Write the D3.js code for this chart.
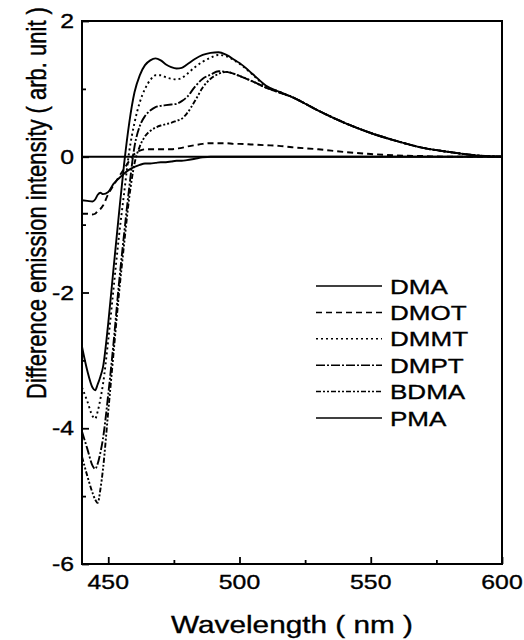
<!DOCTYPE html>
<html lang="en">
<head>
  <meta charset="UTF-8">
  <title>Difference emission intensity</title>
  <script src="https://d3js.org/d3.v7.min.js"></script>
  <style>
    body { margin: 0; background: #fff; }
    svg { display: block; font-family: "Liberation Sans", Arial, sans-serif; }
    svg text { fill: #000; stroke: #000; stroke-width: 0.35px; }
    .tick-label { font-size: 20px; }
    .legend text { font-size: 21px; }
  </style>
</head>
<body>
<svg width="524" height="640"></svg>
<script>
// wavelengths (nm)
const wavelength = [440,442,444,445,446,447,448,450,452,454,456,458,460,462,464,466,468,470,472,474,476,478,480,483,486,489,492,495,498,500,505,510,515,520,530,540,550,560,570,580,590,600];

const DMA  = [-0.64,-0.65,-0.66,-0.63,-0.56,-0.53,-0.55,-0.52,-0.40,-0.32,-0.25,-0.19,-0.15,-0.12,-0.10,-0.10,-0.09,-0.08,-0.08,-0.07,-0.06,-0.06,-0.05,-0.03,-0.01,0,0,0,0,0,0,0,0,0,0,0,0,0,0,0,0,0];
const DMOT = [-0.84,-0.84,-0.85,-0.84,-0.80,-0.77,-0.72,-0.55,-0.42,-0.30,-0.18,-0.06,0.04,0.09,0.11,0.11,0.11,0.11,0.11,0.11,0.12,0.13,0.15,0.17,0.19,0.20,0.20,0.20,0.19,0.19,0.18,0.17,0.16,0.14,0.11,0.07,0.04,0.02,0.01,0,0,0];
const DMMT = [-3.40,-3.60,-3.82,-3.86,-3.75,-3.57,-3.35,-2.70,-1.95,-1.20,-0.55,0.08,0.50,0.80,1.00,1.13,1.20,1.20,1.17,1.15,1.14,1.16,1.22,1.32,1.40,1.46,1.50,1.48,1.42,1.37,1.21,1.04,0.96,0.88,0.68,0.50,0.35,0.23,0.13,0.07,0.02,0];
const DMPT = [-4.05,-4.30,-4.55,-4.60,-4.52,-4.36,-4.15,-3.50,-2.75,-1.90,-1.15,-0.45,0.15,0.45,0.60,0.68,0.73,0.75,0.76,0.77,0.78,0.82,0.88,1.03,1.15,1.21,1.26,1.25,1.22,1.19,1.11,1.02,0.95,0.88,0.68,0.50,0.35,0.23,0.13,0.07,0.02,0];
const BDMA = [-4.42,-4.70,-4.95,-5.05,-5.10,-4.90,-4.60,-3.75,-2.90,-2.05,-1.30,-0.60,-0.10,0.15,0.30,0.38,0.43,0.46,0.48,0.50,0.53,0.56,0.64,0.82,1.02,1.15,1.22,1.25,1.22,1.19,1.11,1.02,0.95,0.88,0.68,0.50,0.35,0.23,0.13,0.07,0.02,0];
const PMA  = [-2.80,-3.15,-3.40,-3.44,-3.35,-3.24,-3.10,-2.45,-1.65,-0.87,-0.12,0.50,0.95,1.20,1.35,1.42,1.45,1.42,1.36,1.32,1.30,1.31,1.36,1.44,1.50,1.53,1.54,1.50,1.43,1.38,1.22,1.05,0.96,0.88,0.68,0.50,0.35,0.23,0.13,0.07,0.02,0];

const seriesNames = ["DMA","DMOT","DMMT","DMPT","BDMA","PMA"];
const seriesValues = [DMA, DMOT, DMMT, DMPT, BDMA, PMA];
const dashes = ["none", "6,4", "2,3", "9,2,2,2", "5,2,2,2,2,2", "none"];

const xTicks = [450, 500, 550, 600];
const xMinor = [475, 525, 575];
const yTicks = [2, 0, -2, -4, -6];
const yMinor = [1, -1, -3, -5];

const svg = d3.select("svg");
const plotL = 82, plotR = 502, plotT = 21, plotB = 564;
const stretch = 1.24; // the lettering of the original is a bit wide

const x = d3.scaleLinear().domain([440, 600]).range([plotL, plotR]);
const y = d3.scaleLinear().domain([-6, 2]).range([plotB, plotT]);

function wideText(sel, tx, ty) {
  return sel.append("text")
    .attr("transform", `translate(${tx},${ty}) scale(${stretch},1)`);
}

// curves
const line = d3.line()
  .x((d, i) => x(wavelength[i]))
  .y(d => y(d))
  .curve(d3.curveMonotoneX);

seriesValues.forEach((vals, k) => {
  svg.append("path")
    .attr("d", line(vals))
    .attr("fill", "none")
    .attr("stroke", "#000")
    .attr("stroke-width", 1.9)
    .attr("stroke-dasharray", dashes[k]);
});

// zero line
svg.append("line")
  .attr("x1", plotL).attr("x2", plotR)
  .attr("y1", y(0)).attr("y2", y(0))
  .attr("stroke", "#000").attr("stroke-width", 2);

// frame
svg.append("rect")
  .attr("x", plotL).attr("y", plotT)
  .attr("width", plotR - plotL).attr("height", plotB - plotT)
  .attr("fill", "none").attr("stroke", "#000").attr("stroke-width", 2);

// ticks, pointing inward
svg.append("g")
  .attr("transform", `translate(0,${plotB})`)
  .call(d3.axisTop(x).tickValues(xTicks).tickSize(7).tickFormat(""));
svg.append("g")
  .attr("transform", `translate(0,${plotB})`)
  .call(d3.axisTop(x).tickValues(xMinor).tickSize(4).tickFormat(""));
svg.append("g")
  .attr("transform", `translate(${plotL},0)`)
  .call(d3.axisRight(y).tickValues(yTicks).tickSize(7).tickFormat(""));
svg.append("g")
  .attr("transform", `translate(${plotL},0)`)
  .call(d3.axisRight(y).tickValues(yMinor).tickSize(4).tickFormat(""));
svg.selectAll(".domain").remove();
svg.selectAll(".tick line").attr("stroke", "#000").attr("stroke-width", 1.8);

// tick labels
xTicks.forEach(v => {
  wideText(svg, x(v), 589)
    .attr("class", "tick-label")
    .attr("text-anchor", "middle")
    .text(v);
});
yTicks.forEach(v => {
  wideText(svg, 74, y(v) + 7)
    .attr("class", "tick-label")
    .attr("text-anchor", "end")
    .text(v);
});

// axis titles
wideText(svg, 292, 633)
  .attr("text-anchor", "middle")
  .style("font-size", "24px")
  .text("Wavelength ( nm )");

svg.append("text")
  .attr("transform", `translate(46,203) scale(${stretch},1) rotate(-90)`)
  .attr("text-anchor", "middle")
  .style("font-size", "22px")
  .text("Difference emission intensity ( arb. unit )");

// legend
const legend = svg.append("g").attr("class", "legend");
seriesNames.forEach((name, i) => {
  const ly = 286 + i * 26.4;
  legend.append("line")
    .attr("x1", 316).attr("x2", 382)
    .attr("y1", ly).attr("y2", ly)
    .attr("stroke", "#000").attr("stroke-width", 1.5)
    .attr("stroke-dasharray", dashes[i]);
  wideText(legend, 390, ly + 7.5).text(name);
});
</script>
</body>
</html>
